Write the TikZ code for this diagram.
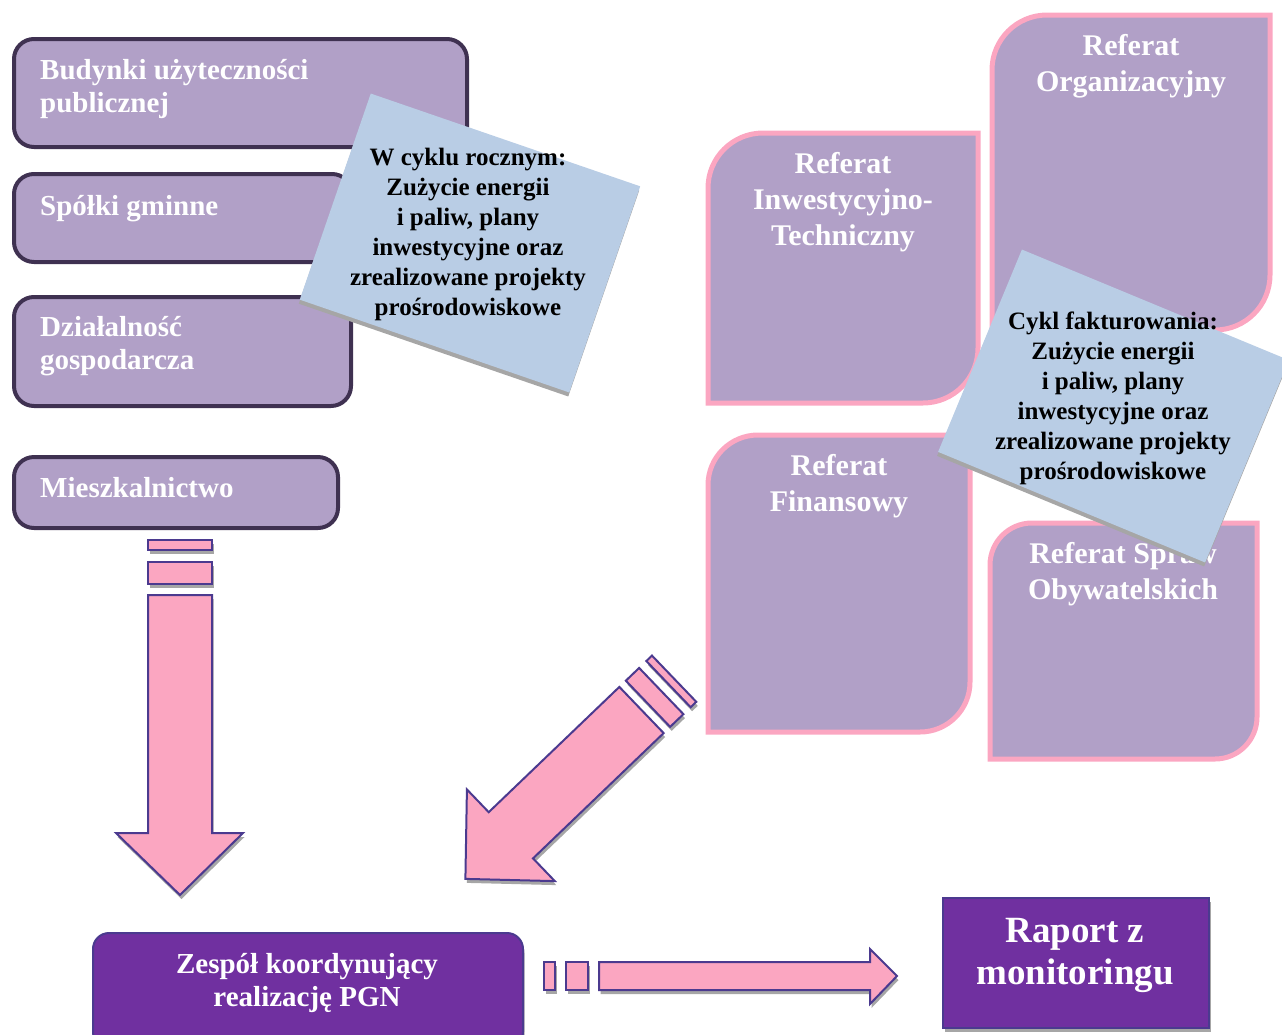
\documentclass[tikz,border=0pt]{standalone}
\usepackage{fontspec}
\setmainfont{Liberation Serif}
\usetikzlibrary{positioning}

\definecolor{lawenda}{HTML}{B1A0C7}
\definecolor{fiolet}{HTML}{3F3151}
\definecolor{roz}{HTML}{FBA6C1}
\definecolor{niebieski}{HTML}{B9CDE5}
\definecolor{purpura}{HTML}{7030A0}
\definecolor{obrys}{HTML}{4B3A8F}
\definecolor{szary}{HTML}{A6A6A6}

\tikzset{
  cien/.style={preaction={fill=szary, transform canvas={xshift=1.5pt,yshift=-4pt}}},
  grupa/.style={draw=fiolet, line width=4pt, fill=lawenda, rounded corners=20pt, anchor=north west, inner sep=0pt},
  grupatxt/.style={text=white, font=\fontsize{29}{33}\selectfont\bfseries, align=left, anchor=west, inner sep=0pt},
  referat/.style={draw=roz, line width=5pt, fill=lawenda},
  referattxt/.style={text=white, font=\fontsize{30}{36}\selectfont\bfseries, align=center, inner sep=0pt},
  info/.style={fill=niebieski, inner sep=0pt, preaction={fill=szary, transform canvas={xshift=-1pt,yshift=-4pt}}},
  infotxt/.style={font=\fontsize{25}{30}\selectfont\bfseries, align=center, inner sep=0pt},
  strzalka/.style={fill=roz, draw=obrys, line width=2pt, cien},
  blok/.style={fill=purpura, draw=obrys, line width=2pt, inner sep=0pt, cien},
  bloktxt/.style={text=white, align=center, inner sep=0pt},
}

\begin{document}
\begin{tikzpicture}[x=1pt,y=-1pt]
  \useasboundingbox (0,0) rectangle (1282,1034);

  % grupy odbiorcow
  \node[grupa, minimum width=453pt, minimum height=108pt] (budynki) at (12,37) {};
  \node[grupa, minimum width=338pt, minimum height=88pt] (spolki) at (12,172) {};
  \node[grupa, minimum width=337pt, minimum height=109pt] (dzialalnosc) at (12,295) {};
  \node[grupa, minimum width=324pt, minimum height=71pt] (mieszkalnictwo) at (12,455) {};
  \node[grupatxt] (budynkiTxt) at (40,89) {Budynki użyteczności\\publicznej};
  \node[grupatxt] (spolkiTxt) at (40,209) {Spółki gminne};
  \node[grupatxt] (dzialalnoscTxt) at (40,346) {Działalność\\gospodarcza};
  \node[grupatxt] (mieszkalnictwoTxt) at (40,488) {Mieszkalnictwo};

  \node[info, minimum width=285pt, minimum height=218pt, rotate=-19] (roczny) at (470,243) {};
  \node[infotxt] (rocznyTxt) at (468,234) {W cyklu rocznym:\\Zużycie energii\\i paliw, plany\\inwestycyjne oraz\\zrealizowane projekty\\prośrodowiskowe};

  % referaty urzedu
  \draw[referat] (992,330) -- (992,70) arc[start angle=180,end angle=270,radius=55] -- (1270,15) -- (1270,275) arc[start angle=0,end angle=90,radius=55] -- cycle;
  \draw[referat] (708,403) -- (708,188) arc[start angle=180,end angle=270,radius=55] -- (978,133) -- (978,348) arc[start angle=0,end angle=90,radius=55] -- cycle;
  \draw[referat] (708,732) -- (708,485) arc[start angle=180,end angle=270,radius=50] -- (970,435) -- (970,682) arc[start angle=0,end angle=90,radius=50] -- cycle;
  \draw[referat] (990,759) -- (990,565) arc[start angle=180,end angle=270,radius=42] -- (1257,523) -- (1257,717) arc[start angle=0,end angle=90,radius=42] -- cycle;
  \node[referattxt] (organizacyjny) at (1131,66) {Referat\\Organizacyjny};
  \node[referattxt] (inwestycyjny) at (843,202) {Referat\\Inwestycyjno-\\Techniczny};
  \node[referattxt] (finansowy) at (839,486) {Referat\\Finansowy};
  \node[referattxt] (obywatelski) at (1123,574) {Referat Spraw\\Obywatelskich};

  \node[info, minimum width=289pt, minimum height=219pt, rotate=-22.5] (faktury) at (1113.5,406) {};
  \node[infotxt] (fakturyTxt) at (1113,398) {Cykl fakturowania:\\Zużycie energii\\i paliw, plany\\inwestycyjne oraz\\zrealizowane projekty\\prośrodowiskowe};

  % strzalki
  \draw[strzalka] (148,540) rectangle (212,550);
  \draw[strzalka] (148,562) rectangle (212,584);
  \draw[strzalka] (148,595) -- (212,595) -- (212,833) -- (243,833) -- (180,895) -- (116,833) -- (148,833) -- cycle;

  \begin{scope}[shift={(641.5,710)}, rotate=223.8]
    \draw[strzalka] (-45.2,-32) rectangle (-37.4,32);
    \draw[strzalka] (-27.4,-32) rectangle (-9,32);
    \draw[strzalka] (0,-32) -- (181,-32) -- (181,-63.5) -- (244,0) -- (181,63.5) -- (181,32) -- (0,32) -- cycle;
  \end{scope}

  \draw[strzalka] (544,962) rectangle (555,990);
  \draw[strzalka] (566,962) rectangle (588,990);
  \draw[strzalka] (599,962) -- (870,962) -- (870,949) -- (897,976) -- (870,1004) -- (870,990) -- (599,990) -- cycle;

  % zespol i raport
  \node[blok, rounded corners=16pt, minimum width=430pt, minimum height=115pt, anchor=north west] (zespol) at (92,932) {};
  \node[bloktxt, font=\fontsize{29}{33}\selectfont\bfseries] (zespolTxt) at (307,983) {Zespół koordynujący\\realizację PGN};
  \node[blok, minimum width=266pt, minimum height=130pt, anchor=north west] (raport) at (942,897) {};
  \node[bloktxt, font=\fontsize{37}{42}\selectfont\bfseries] (raportTxt) at (1075,955) {Raport z\\monitoringu};
\end{tikzpicture}
\end{document}
